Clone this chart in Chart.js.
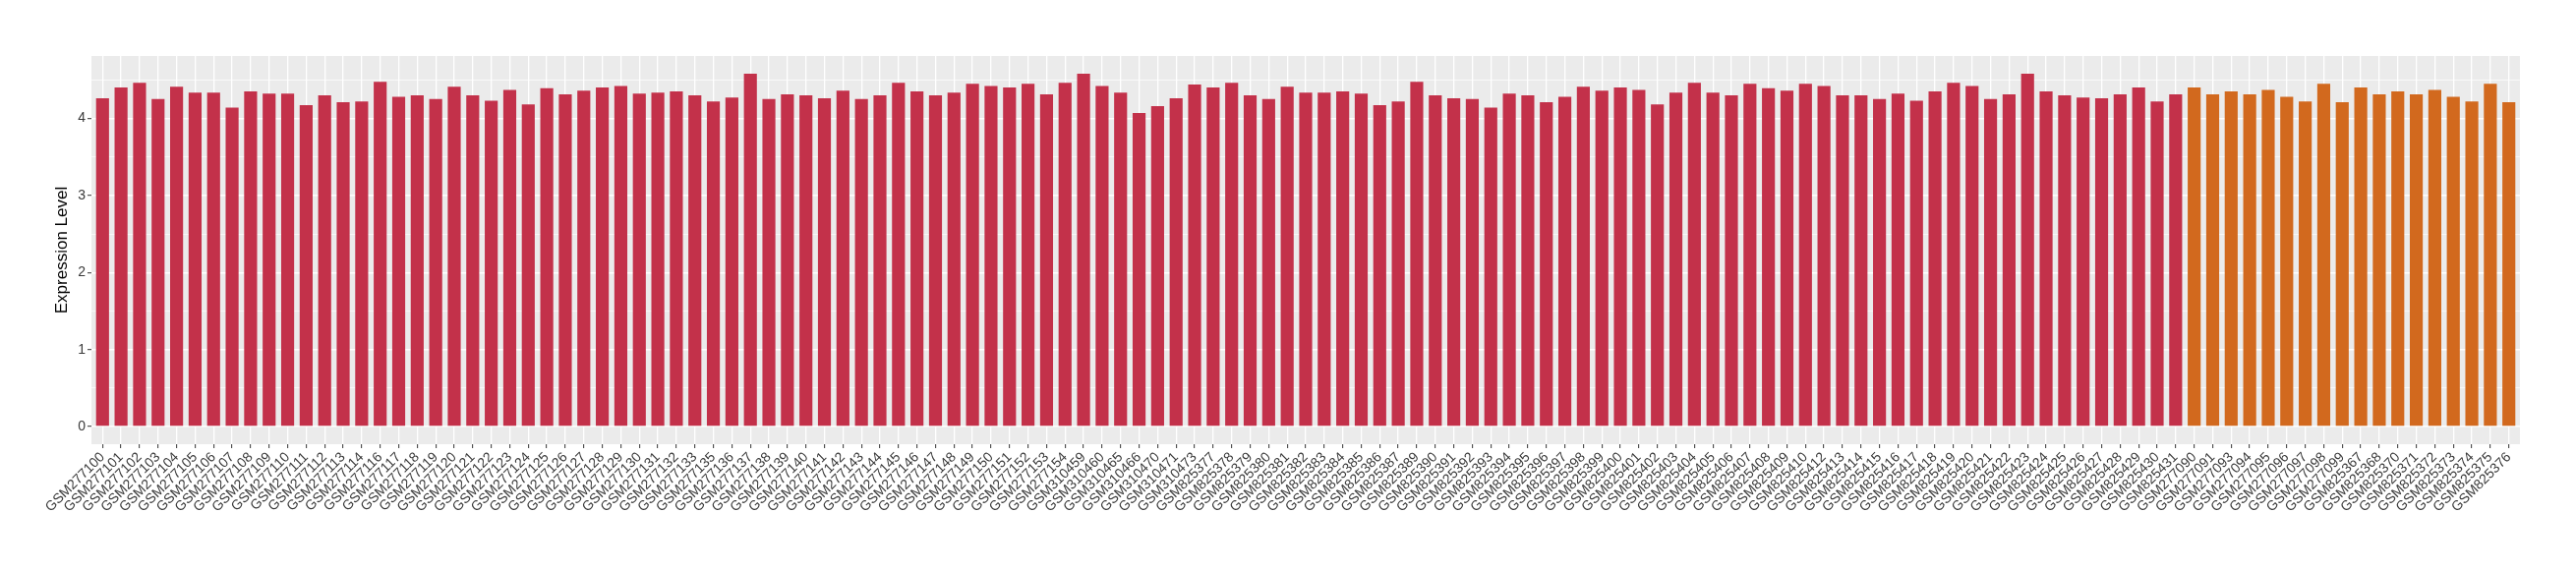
<!DOCTYPE html>
<html>
<head>
<meta charset="utf-8">
<script src="https://cdn.jsdelivr.net/npm/chart.js@4"></script>
<style>
  html, body { margin: 0; padding: 0; background: #ffffff; }
  #wrap { width: 2620px; height: 580px; }
</style>
</head>
<body>
<div id="wrap"><canvas id="c" width="2620" height="580"></canvas></div>
<script>
// ---- Data ----
const samplesGroupA = [
  "GSM277100","GSM277101","GSM277102","GSM277103","GSM277104","GSM277105","GSM277106","GSM277107",
  "GSM277108","GSM277109","GSM277110","GSM277111","GSM277112","GSM277113","GSM277114","GSM277116",
  "GSM277117","GSM277118","GSM277119","GSM277120","GSM277121","GSM277122","GSM277123","GSM277124",
  "GSM277125","GSM277126","GSM277127","GSM277128","GSM277129","GSM277130","GSM277131","GSM277132",
  "GSM277133","GSM277135","GSM277136","GSM277137","GSM277138","GSM277139","GSM277140","GSM277141",
  "GSM277142","GSM277143","GSM277144","GSM277145","GSM277146","GSM277147","GSM277148","GSM277149",
  "GSM277150","GSM277151","GSM277152","GSM277153","GSM277154","GSM310459","GSM310460","GSM310465",
  "GSM310466","GSM310470","GSM310471","GSM310473","GSM825377","GSM825378","GSM825379","GSM825380",
  "GSM825381","GSM825382","GSM825383","GSM825384","GSM825385","GSM825386","GSM825387","GSM825389",
  "GSM825390","GSM825391","GSM825392","GSM825393","GSM825394","GSM825395","GSM825396","GSM825397",
  "GSM825398","GSM825399","GSM825400","GSM825401","GSM825402","GSM825403","GSM825404","GSM825405",
  "GSM825406","GSM825407","GSM825408","GSM825409","GSM825410","GSM825412","GSM825413","GSM825414",
  "GSM825415","GSM825416","GSM825417","GSM825418","GSM825419","GSM825420","GSM825421","GSM825422",
  "GSM825423","GSM825424","GSM825425","GSM825426","GSM825427","GSM825428","GSM825429","GSM825430",
  "GSM825431"
];
const valuesGroupA = [
  4.26,4.40,4.46,4.25,4.41,4.335,4.335,4.14,4.35,4.32,4.32,4.17,4.30,4.21,4.22,4.475,
  4.28,4.30,4.25,4.41,4.30,4.23,4.37,4.18,4.39,4.31,4.36,4.40,4.42,4.32,4.335,4.35,
  4.30,4.22,4.27,4.58,4.25,4.31,4.30,4.26,4.36,4.25,4.30,4.46,4.35,4.30,4.335,4.45,
  4.42,4.40,4.45,4.31,4.46,4.58,4.42,4.335,4.07,4.16,4.26,4.44,4.40,4.46,4.30,4.25,
  4.41,4.335,4.335,4.35,4.32,4.17,4.22,4.475,4.30,4.26,4.25,4.14,4.32,4.30,4.21,4.28,
  4.41,4.36,4.40,4.37,4.18,4.335,4.46,4.335,4.30,4.45,4.39,4.36,4.45,4.42,4.30,4.30,
  4.25,4.32,4.23,4.35,4.46,4.42,4.25,4.31,4.58,4.35,4.30,4.27,4.26,4.31,4.40,4.22,
  4.31
];
const samplesGroupB = [
  "GSM277090","GSM277091","GSM277093","GSM277094","GSM277095","GSM277096","GSM277097","GSM277098",
  "GSM277099","GSM825367","GSM825368","GSM825370","GSM825371","GSM825372","GSM825373","GSM825374",
  "GSM825375","GSM825376"
];
const valuesGroupB = [
  4.40,4.31,4.35,4.31,4.37,4.28,4.22,4.45,4.21,4.40,4.31,4.35,4.31,4.37,4.28,4.22,4.45,4.21
];
const colorGroupA = "#C3314A";
const colorGroupB = "#D2691E";
const yTickValues = [0, 0.5, 1, 1.5, 2, 2.5, 3, 3.5, 4, 4.5];

// ---- Build ----
const labels = samplesGroupA.concat(samplesGroupB);
const values = valuesGroupA.concat(valuesGroupB);
const colors = samplesGroupA.map(() => colorGroupA).concat(samplesGroupB.map(() => colorGroupB));
const points = values.map((v, i) => ({ x: i, y: v }));
const n = labels.length;
const maxVal = Math.max(...values);

const panelBg = {
  id: 'panelBg',
  beforeDraw(chart) {
    const { ctx, chartArea: a } = chart;
    ctx.save();
    ctx.fillStyle = '#EBEBEB';
    ctx.fillRect(a.left, a.top, a.right - a.left, a.bottom - a.top);
    ctx.restore();
  }
};

new Chart(document.getElementById('c'), {
  type: 'bar',
  data: {
    datasets: [{
      data: points,
      backgroundColor: colors,
      borderWidth: 0,
      barPercentage: 0.7,
      categoryPercentage: 1.0
    }]
  },
  plugins: [panelBg],
  options: {
    responsive: false,
    animation: false,
    layout: { padding: { top: 57, right: 57, bottom: 0, left: 0 } },
    plugins: { legend: { display: false }, tooltip: { enabled: false } },
    scales: {
      x: {
        type: 'linear',
        min: -0.6,
        max: n - 1 + 0.6,
        offset: false,
        border: { display: false },
        grid: {
          offset: false,
          color: '#FFFFFF',
          lineWidth: 1.3,
          drawTicks: true,
          tickLength: 4,
          tickColor: '#333333',
          tickWidth: 1
        },
        afterBuildTicks(scale) {
          scale.ticks = labels.map((_, i) => ({ value: i }));
        },
        afterFit(scale) { scale.height = 128; },
        ticks: {
          autoSkip: false,
          minRotation: 45,
          maxRotation: 45,
          padding: 1,
          color: '#3A3A3A',
          font: { family: 'Liberation Sans, Arial, sans-serif', size: 14 },
          callback: (value, index) => labels[index]
        }
      },
      y: {
        type: 'linear',
        min: -0.05 * maxVal,
        max: 1.05 * maxVal,
        border: { display: false },
        afterBuildTicks(scale) {
          scale.ticks = yTickValues.map(v => ({ value: v }));
        },
        afterFit(scale) { scale.width = 93; },
        grid: {
          color: '#FFFFFF',
          lineWidth: (ctx) => (ctx.tick && Number.isInteger(ctx.tick.value)) ? 1.4 : 0.7,
          drawTicks: true,
          tickLength: 4,
          tickColor: (ctx) => (ctx.tick && Number.isInteger(ctx.tick.value)) ? '#333333' : 'rgba(0,0,0,0)',
          tickWidth: 1
        },
        ticks: {
          padding: 2,
          color: '#3A3A3A',
          font: { family: 'Liberation Sans, Arial, sans-serif', size: 14 },
          callback: (v) => Number.isInteger(v) ? String(v) : ''
        },
        title: {
          display: true,
          text: 'Expression Level',
          color: '#000000',
          font: { family: 'Liberation Sans, Arial, sans-serif', size: 17 },
          padding: { top: 53, bottom: 0 }
        }
      }
    }
  }
});
</script>
</body>
</html>
